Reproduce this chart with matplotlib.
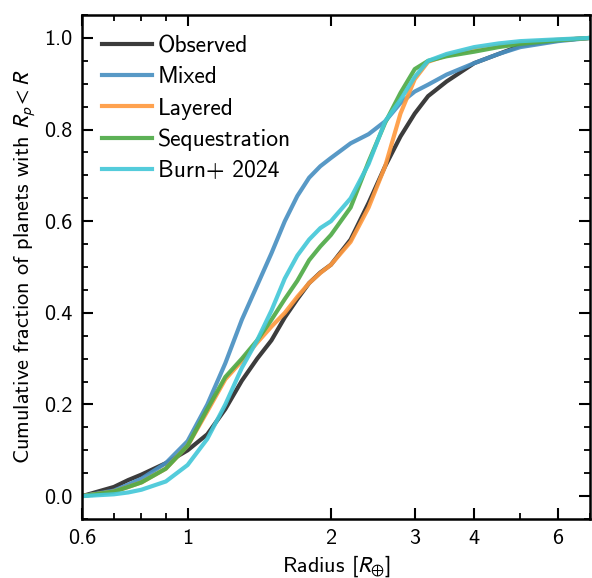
import matplotlib
matplotlib.use("Agg")
import matplotlib.pyplot as plt
from matplotlib.ticker import FixedLocator, FixedFormatter, MultipleLocator

plt.rcParams["font.family"] = ["cmss10", "DejaVu Sans"]
plt.rcParams["mathtext.fontset"] = "stixsans"
plt.rcParams["axes.unicode_minus"] = False
plt.rcParams["axes.formatter.use_mathtext"] = True

# radius grid [R_earth] and cumulative fractions
radius = [0.6, 0.7, 0.75, 0.8, 0.9, 1.0, 1.1, 1.2, 1.3, 1.4, 1.5, 1.6, 1.7, 1.8,
          1.9, 2.0, 2.2, 2.4, 2.6, 2.8, 3.0, 3.2, 3.5, 4.0, 4.5, 5.0, 6.0, 7.0]

observed = [0.0, 0.02, 0.035, 0.047, 0.072, 0.10, 0.135, 0.19, 0.252, 0.30, 0.34,
            0.39, 0.43, 0.465, 0.488, 0.505, 0.56, 0.64, 0.72, 0.785, 0.835, 0.873,
            0.905, 0.945, 0.965, 0.983, 0.995, 1.0]
mixed = [0.0, 0.012, 0.025, 0.038, 0.072, 0.12, 0.20, 0.29, 0.385, 0.46, 0.53,
         0.60, 0.655, 0.695, 0.72, 0.738, 0.77, 0.79, 0.818, 0.858, 0.883, 0.898,
         0.92, 0.945, 0.965, 0.98, 0.993, 1.0]
layered = [0.0, 0.01, 0.02, 0.03, 0.06, 0.11, 0.185, 0.255, 0.295, 0.335, 0.37,
           0.40, 0.435, 0.465, 0.487, 0.505, 0.555, 0.63, 0.72, 0.835, 0.91, 0.948,
           0.962, 0.975, 0.983, 0.99, 0.996, 1.0]
sequestration = [0.0, 0.01, 0.02, 0.03, 0.06, 0.11, 0.19, 0.26, 0.30, 0.34, 0.385,
                 0.43, 0.47, 0.515, 0.545, 0.57, 0.63, 0.73, 0.815, 0.88, 0.932,
                 0.95, 0.96, 0.97, 0.98, 0.987, 0.995, 1.0]
burn2024 = [0.0, 0.004, 0.008, 0.014, 0.032, 0.068, 0.125, 0.20, 0.28, 0.34, 0.405,
            0.475, 0.525, 0.56, 0.585, 0.60, 0.65, 0.725, 0.818, 0.865, 0.915, 0.95,
            0.965, 0.98, 0.988, 0.993, 0.997, 1.0]

labels = ["Observed", "Mixed", "Layered", "Sequestration", "Burn+ 2024"]
colors = ["#2b2b2b", "#4a90c2", "#ff9a40", "#4fab48", "#45c8d8"]

xticks = [0.6, 1, 2, 3, 4, 6]
xticklabels = ["0.6", "1", "2", "3", "4", "6"]
xminor = [0.7, 0.8, 0.9, 5, 7]

fig = plt.figure(figsize=(5.92, 5.78), dpi=100)
ax = fig.add_axes([0.1385, 0.102, 0.858, 0.872])

for ys, lab, c in zip([observed, mixed, layered, sequestration, burn2024], labels, colors):
    ax.plot(radius, ys, color=c, lw=3, alpha=0.92, label=lab)

ax.set_xscale("log")
ax.set_xlim(0.6, 7.0)
ax.set_ylim(-0.05, 1.05)
ax.xaxis.set_major_locator(FixedLocator(xticks))
ax.xaxis.set_major_formatter(FixedFormatter(xticklabels))
ax.xaxis.set_minor_locator(FixedLocator(xminor))
ax.xaxis.set_minor_formatter(FixedFormatter([""] * len(xminor)))
ax.yaxis.set_major_locator(MultipleLocator(0.2))
ax.yaxis.set_minor_locator(MultipleLocator(0.05))
ax.yaxis.set_major_formatter(plt.FuncFormatter(lambda v, p: f"{v:.1f}"))

ax.tick_params(which="both", direction="in", top=True, right=True, labelsize=16)
ax.tick_params(which="major", length=8, width=1.5, pad=7)
ax.tick_params(which="minor", length=4.5, width=1.3)
for s in ax.spines.values():
    s.set_linewidth(1.8)

ax.set_xlabel(r"Radius [$R_{\oplus}$]", fontsize=16)
ax.set_ylabel(r"Cumulative fraction of planets with $R_p < R$", fontsize=16)
ax.legend(loc="upper left", frameon=False, fontsize=17, handlelength=2.12,
          handletextpad=0.25, labelspacing=0.39, borderaxespad=0.45)

fig.savefig("out.png", dpi=100)
